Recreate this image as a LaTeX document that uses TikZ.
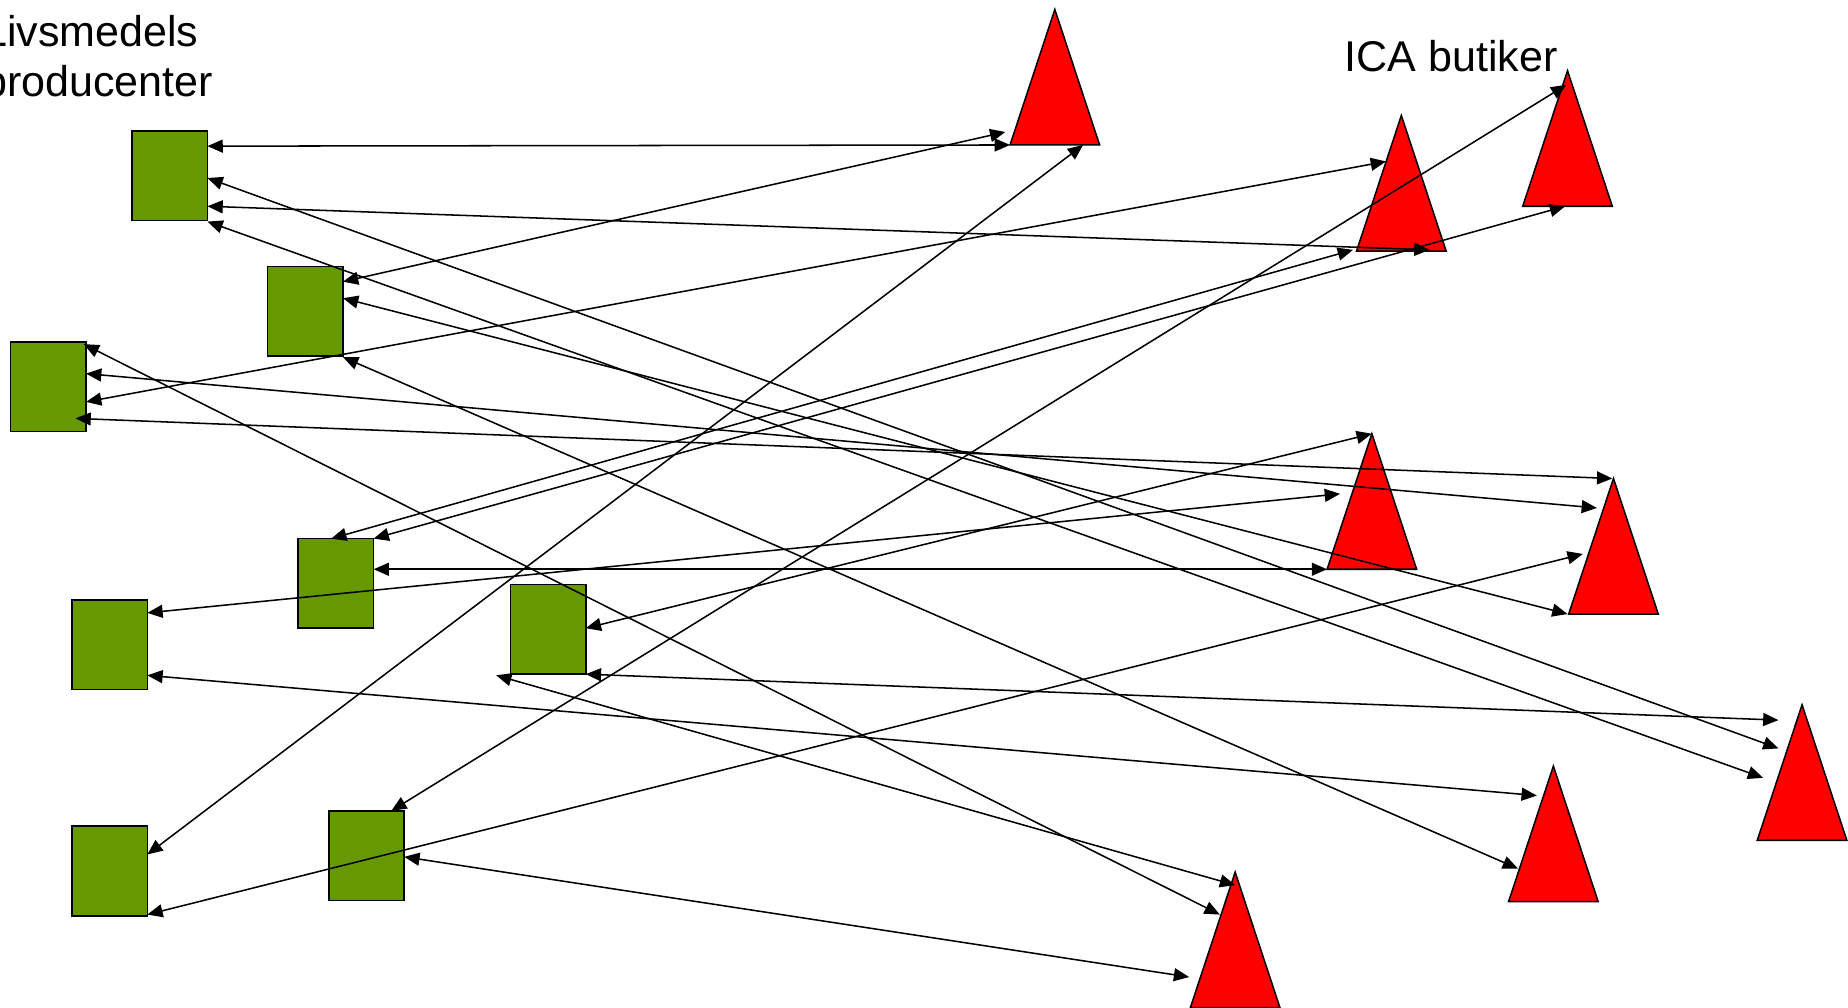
\documentclass[tikz,border=0pt]{standalone}
\usepackage{fontspec}
\setmainfont{Liberation Sans}
\usetikzlibrary{arrows.meta,shapes.geometric}
\definecolor{prodgreen}{HTML}{669900}
\definecolor{storered}{HTML}{FF0000}

\begin{document}
\begin{tikzpicture}[
    x=1pt, y=-1pt,
    line width=1.3pt,
    >={Triangle[length=13pt,width=11pt]},
    prod_node/.style={draw, fill=prodgreen, rectangle, minimum width=64pt, minimum height=76pt, inner sep=0pt, outer sep=0pt, anchor=north west},
    store_node/.style={draw, fill=storered, isosceles triangle, shape border rotate=90, isosceles triangle stretches, minimum width=76pt, minimum height=115pt, inner sep=0pt, outer sep=0pt, anchor=apex},
    flow_edge/.style={<->},
    label_text/.style={font=\fontsize{36.5}{42}\selectfont, inner sep=0pt, anchor=base west}
]

\useasboundingbox (0,0) rectangle (1568,855);
\clip (0,0) rectangle (1568,855);

% --- LABELS ---
\node[label_text] (livs) at (-15,39.6) {Livsmedels};
\node[label_text] (prod) at ([yshift=-42.4pt]livs.base west) {producenter};
\node[label_text] (ica) at (1140.5,61) {ICA butiker};

% --- NODES ---

% Producers (green squares)
\node[prod_node] (p1) at (112,111) {};
\node[prod_node] (p2) at (227,226) {};
\node[prod_node] (p3) at (9,290) {};
\node[prod_node] (p4) at (253,457) {};
\node[prod_node] (p5) at (61,509) {};
\node[prod_node] (p6) at (433,496) {};
\node[prod_node] (p7) at (61,701) {};
\node[prod_node] (p8) at (279,688) {};

% Stores (red triangles)
\node[store_node] (b1) at (895,8) {};
\node[store_node] (b2) at (1189,98) {};
\node[store_node] (b3) at (1330,60) {};
\node[store_node] (b4) at (1164,368) {};
\node[store_node] (b5) at (1369,406) {};
\node[store_node] (b6) at (1529,598) {};
\node[store_node] (b7) at (1318,650) {};
\node[store_node] (b8) at (1048,740) {};

% --- EDGES ---

% 1. From p1
\draw[flow_edge] ([shift={(64pt,-13pt)}]p1.north west) -- ([shift={(-38pt,-115pt)}]b1.apex);
\draw[flow_edge] ([shift={(64pt,-40pt)}]p1.north west) -- ([shift={(-20pt,-37pt)}]b6.apex);
\draw[flow_edge] ([shift={(64pt,-64pt)}]p1.north west) -- ([shift={(24pt,-114pt)}]b2.apex);
\draw[flow_edge] ([shift={(64pt,-77pt)}]p1.north west) -- ([shift={(-33pt,-62pt)}]b6.apex);

% 2. From p2
\draw[flow_edge] ([shift={(64pt,-13pt)}]p2.north west) -- ([shift={(-42pt,-104pt)}]b1.apex);
\draw[flow_edge] ([shift={(64pt,-27pt)}]p2.north west) -- ([shift={(-39pt,-115pt)}]b5.apex);
\draw[flow_edge] ([shift={(64pt,-77pt)}]p2.north west) -- ([shift={(-30pt,-87pt)}]b7.apex);

% 3. From p3
\draw[flow_edge] ([shift={(62pt,-2pt)}]p3.north west) -- ([shift={(-13pt,-36pt)}]b8.apex);
\draw[flow_edge] ([shift={(64pt,-27pt)}]p3.north west) -- ([shift={(-14pt,-25pt)}]b5.apex);
\draw[flow_edge] ([shift={(64pt,-51pt)}]p3.north west) -- ([shift={(-13pt,-39pt)}]b2.apex);
\draw[flow_edge] ([shift={(55pt,-65pt)}]p3.north west) -- ([xshift=-1pt]b5.apex);

% 4. From p4
\draw[flow_edge] ([xshift=28pt]p4.north west) -- ([shift={(-41pt,-114pt)}]b2.apex);
\draw[flow_edge] (p4.north east) -- ([shift={(-2pt,-115pt)}]b3.apex);
\draw[flow_edge] ([yshift=-26pt]p4.north east) -- ([shift={(-38pt,-115pt)}]b4.apex);

% 5. From p5
\draw[flow_edge] ([yshift=-11pt]p5.north east) -- ([shift={(-27pt,-51pt)}]b4.apex);
\draw[flow_edge] ([yshift=-64pt]p5.north east) -- ([shift={(-14pt,-25pt)}]b7.apex);

% 6. From p6
\draw[flow_edge] ([yshift=-37pt]p6.north east) -- (b4.apex);
\draw[flow_edge] (p6.south east) -- ([shift={(-20pt,-13pt)}]b6.apex);
\draw[flow_edge] ([shift={(-12pt,-1pt)}]p6.south west) -- ([yshift=-11pt]b8.apex);

% 7. From p7
\draw[flow_edge] ([yshift=-24pt]p7.north east) -- ([shift={(24pt,-115pt)}]b1.apex);
\draw[flow_edge] ([yshift=-75pt]p7.north east) -- ([shift={(-26pt,-64pt)}]b5.apex);

% 8. From p8
\draw[flow_edge] ([xshift=53pt]p8.north west) -- ([shift={(-1pt,-12pt)}]b3.apex);
\draw[flow_edge] ([yshift=-39pt]p8.north east) -- ([shift={(-39pt,-89pt)}]b8.apex);

\end{tikzpicture}
\end{document}
